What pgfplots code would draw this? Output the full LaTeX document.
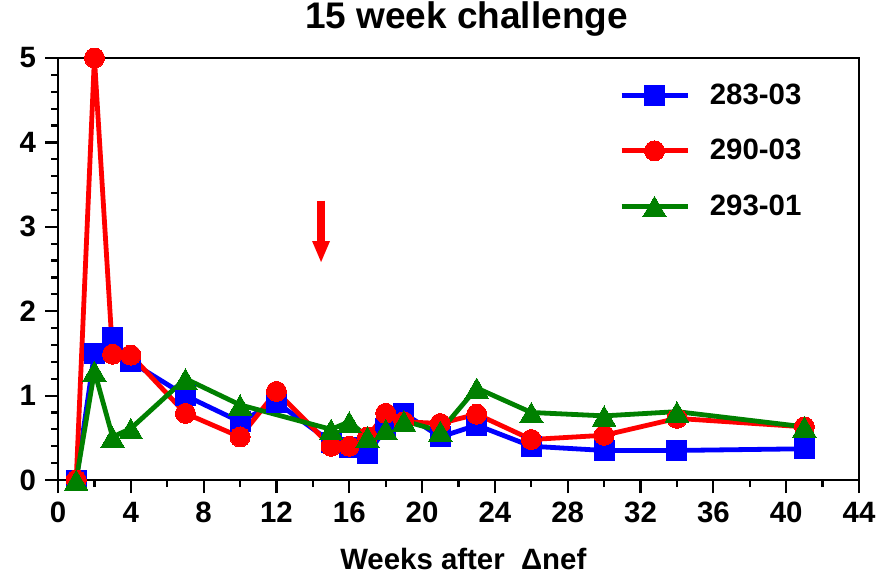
\documentclass[border=0pt]{standalone}
\usepackage{pgfplots}
\pgfplotsset{compat=1.18}
\usepackage{fontspec}
\setmainfont{Liberation Sans}
\usetikzlibrary{arrows.meta}

\definecolor{sblue}{RGB}{0,0,255}
\definecolor{sred}{RGB}{255,0,0}
\definecolor{sgreen}{RGB}{0,128,0}

\newcommand{\lbl}{\fontsize{14.7}{17}\selectfont\bfseries}

\begin{document}
\begin{tikzpicture}
\begin{axis}[
  scale only axis,
  width=400.5pt, height=211pt,
  xmin=0, xmax=44, ymin=0, ymax=5,
  xtick={0,4,...,44}, ytick={0,1,...,5},
  minor x tick num=1, minor y tick num=4,
  tick align=outside,
  xtick pos=left, ytick pos=left,
  major tick length=6.5pt, minor tick length=3.5pt,
  every tick/.style={black, line width=1.1pt},
  axis line style={line width=1.2pt},
  tick label style={font=\lbl},
  /pgf/number format/assume math mode=true,
  xticklabel style={yshift=-1pt},
  yticklabel style={xshift=-1pt},
  clip=false,
  title={\fontsize{18.5}{22}\selectfont\bfseries 15 week challenge},
  title style={at={(axis description cs:0.51,1)}, anchor=base, yshift=9pt},
  xlabel={\lbl Weeks after\ \ Δnef},
  xlabel style={at={(axis description cs:0.506,0)}, anchor=base, yshift=-44.5pt},
  legend style={draw=none, fill=none, font=\lbl,
    at={(axis description cs:0.70,0.78)}, anchor=west,
    row sep=12pt, inner sep=0pt,
    /tikz/every odd column/.append style={column sep=8pt}},
  legend cell align=left,
  legend image code/.code={
    \draw[mark repeat=2, mark phase=2] plot coordinates {(0pt,0pt) (16.5pt,0pt) (33pt,0pt)};
  },
  every axis plot/.append style={line width=2.4pt, line join=round},
]
% 283-03
\addplot[color=sblue, mark=square*, mark size=5pt, mark options={line width=0pt}] coordinates {
  (1,0) (2,1.50) (3,1.69) (4,1.40) (7,1.00) (10,0.69) (12,0.92) (15,0.45)
  (16,0.39) (17,0.31) (18,0.61) (19,0.79) (21,0.51) (23,0.65) (26,0.40)
  (30,0.35) (34,0.35) (41,0.37)};
\addlegendentry{283-03}
% 290-03
\addplot[color=sred, mark=*, mark size=5pt, mark options={line width=0pt}] coordinates {
  (1,0) (2,5.00) (3,1.49) (4,1.48) (7,0.79) (10,0.51) (12,1.05) (15,0.40)
  (16,0.40) (17,0.51) (18,0.79) (19,0.69) (21,0.67) (23,0.78) (26,0.48)
  (30,0.53) (34,0.73) (41,0.63)};
\addlegendentry{290-03}
% 293-01
\addplot[color=sgreen, mark=triangle*, mark size=6.8pt, mark options={line width=0pt, yshift=-1.8pt}] coordinates {
  (1,0) (2,1.29) (3,0.51) (4,0.61) (7,1.20) (10,0.89) (15,0.60) (16,0.69)
  (17,0.51) (18,0.60) (19,0.70) (21,0.58) (23,1.09) (26,0.80) (30,0.76)
  (34,0.81) (41,0.63)};
\addlegendentry{293-01}

% challenge marker
\draw[sred, line width=4pt, -{Triangle[width=8pt, length=11pt]}]
  (axis cs:14.45,3.31) -- (axis cs:14.45,2.57);
\end{axis}
\pgfresetboundingbox
\path[use as bounding box] (-29pt,-47pt) rectangle (417.5pt,240pt);
\end{tikzpicture}
\end{document}
